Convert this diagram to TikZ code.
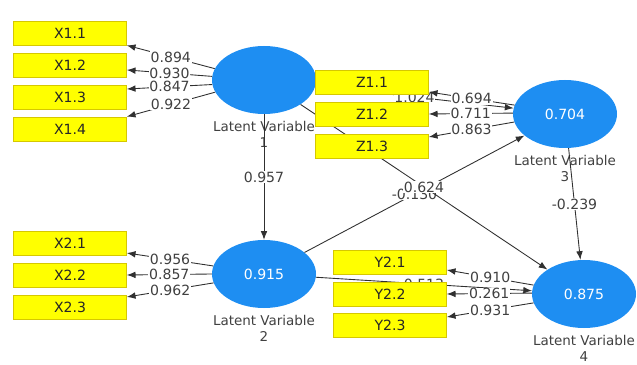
\documentclass[tikz,border=0pt]{standalone}
\usepackage{fontspec}
\setmainfont{DejaVu Sans}
\usetikzlibrary{arrows.meta, positioning, shapes.geometric}
\definecolor{lvBlue}{HTML}{1E8EF2}
\definecolor{indYellow}{HTML}{FFFF00}
\definecolor{indBorder}{HTML}{D6C800}
\definecolor{lineGrey}{HTML}{303030}
\definecolor{txtGrey}{HTML}{404040}

\begin{document}
\begin{tikzpicture}[x=0.3mm, y=-0.3mm,
    lv/.style={ellipse, fill=lvBlue, minimum width=31.2mm, minimum height=20.4mm,
      inner sep=0pt, text=white, font=\fontsize{12}{14}\selectfont},
    ind/.style={rectangle, fill=indYellow, draw=indBorder, line width=0.6pt,
      minimum width=33.9mm, minimum height=7.2mm, inner sep=0pt,
      text=black!85, font=\fontsize{12}{14}\selectfont},
    lvname/.style={align=center, inner sep=0pt, text=txtGrey,
      font=\fontsize{11.5}{13.5}\selectfont},
    link/.style={draw=lineGrey, line width=0.75pt, -{Latex[length=2.6mm, width=2mm]}},
    val/.style={fill=white, inner sep=0.6pt, text=txtGrey,
      font=\fontsize{12}{14}\selectfont}]
  \useasboundingbox (0,0) rectangle (637,365);

  % latent variables
  \node[lv] (lv1) at (264,80) {};
  \node[lv] (lv2) at (264,274) {0.915};
  \node[lv] (lv3) at (565,114) {0.704};
  \node[lv] (lv4) at (584,294) {0.875};
  \foreach \n/\k in {lv1/1, lv2/2, lv3/3, lv4/4}
    \node[lvname, below=2mm of \n] (name\k) {Latent Variable\\\k};

  % inner model
  \draw[link] (lv1) -- node[val]{0.957} (lv2);
  \draw[link] (lv1) -- node[val]{1.024} (lv3);
  \draw[link] (lv2) -- node[val]{0.513} (lv4);
  \draw[link] (lv2) -- node[val]{-0.130} (lv3);
  \draw[link] (lv1) -- node[val]{0.624} (lv4);
  \draw[link] (lv3) -- node[val]{-0.239} (lv4);

  % indicators
  \foreach \n/\t/\y in {x11/X1.1/33, x12/X1.2/65, x13/X1.3/97, x14/X1.4/129,
                        x21/X2.1/243, x22/X2.2/275, x23/X2.3/307}
    \node[ind] (\n) at (70,\y) {\t};
  \foreach \n/\t/\y in {z11/Z1.1/82, z12/Z1.2/114, z13/Z1.3/146}
    \node[ind] (\n) at (372,\y) {\t};
  \foreach \n/\t/\y in {y21/Y2.1/262, y22/Y2.2/294, y23/Y2.3/325}
    \node[ind] (\n) at (390,\y) {\t};

  % outer loadings
  \foreach \s/\t/\v in {lv1.167/x11.south east/0.894, lv1.176/x12.-5/0.930,
                        lv1.185/x13.8/0.847, lv1.194/x14.north east/0.922,
                        lv2.171/x21.-10/0.956, lv2.180/x22.east/0.857,
                        lv2.190/x23.10/0.962,
                        lv3.170/z11.-10/0.694, lv3.179/z12.east/0.711,
                        lv3.189/z13.9/0.863,
                        lv4.170/y21.-8/0.910, lv4.179/y22.east/0.261,
                        lv4.190/y23.8/0.931}
    \draw[link] (\s) -- node[val]{\v} (\t);
\end{tikzpicture}
\end{document}
